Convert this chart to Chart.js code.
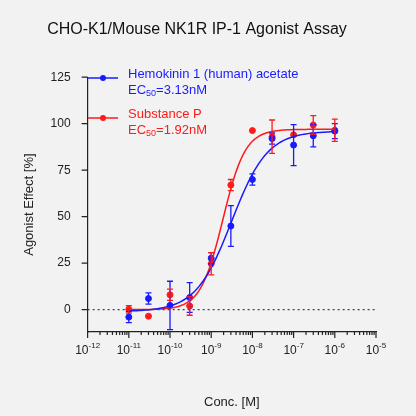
<!DOCTYPE html><html><head><script src="https://cdn.jsdelivr.net/npm/chart.js"></script>
<style>body{margin:0;background:#f2f2f2}#w{width:416px;height:416px}</style></head><body><div id="w"><canvas id="c"></canvas></div>
<script>
const conc=[1e-11,3e-11,1e-10,3e-10,1e-9,3e-9,1e-8,3e-8,1e-7,3e-7,1e-6];
const hkVals=[-4,6,2.3,6.5,27.7,45,70,92,88.5,93.5,96];
const hkErr=[3,3,13,8,3,11,3,3,11,6,4];
const spVals=[0.2,-3.5,8,2,24.7,67,96.3,93,94,99.3,96.5];
const spErr=[2,0,3,5,6,3,0,9,0,5,6];
const hkFit={bottom:-1,top:96,ec50:3.13e-9,hill:1.0};
const spFit={bottom:0,top:97,ec50:1.92e-9,hill:1.6};
const xExp=[-12,-11,-10,-9,-8,-7,-6,-5];
const yTicks=[0,25,50,75,100,125];
function curve(f){const p=[];for(let l=-11;l<=-6.0001;l+=0.05){const x=Math.pow(10,l);p.push({x,y:f.bottom+(f.top-f.bottom)/(1+Math.pow(f.ec50/x,f.hill))});}p.push({x:1e-6,y:f.bottom+(f.top-f.bottom)/(1+Math.pow(f.ec50/1e-6,f.hill))});return p;}
const pts=v=>conc.map((x,i)=>({x,y:v[i]}));
const blue='#1a1aff',red='#ff1a1a';
const plug={id:'p',afterDatasetsDraw(ch){const c=ch.ctx,xs=ch.scales.x,ys=ch.scales.y;c.save();
c.setLineDash([2,3]);c.strokeStyle='#444';c.lineWidth=1.2;c.beginPath();c.moveTo(xs.left,ys.getPixelForValue(0));c.lineTo(xs.right,ys.getPixelForValue(0));c.stroke();c.setLineDash([]);
c.strokeStyle='#222';c.lineWidth=1.2;c.beginPath();
for(let e=-12;e<=-5;e++){for(let m=1;m<10;m++){const v=m*Math.pow(10,e);if(v>1e-5*1.0001)break;const px=xs.getPixelForValue(v);c.moveTo(px,ys.bottom);c.lineTo(px,ys.bottom+(m===1?6:3));}}
yTicks.forEach(v=>{const py=ys.getPixelForValue(v);c.moveTo(xs.left,py);c.lineTo(xs.left-6,py);});c.stroke();
[[hkVals,hkErr,blue],[spVals,spErr,red]].forEach(([v,e,col])=>{c.strokeStyle=col;c.lineWidth=1.3;conc.forEach((x,i)=>{if(!e[i])return;const px=xs.getPixelForValue(x),a=ys.getPixelForValue(v[i]+e[i]),b=ys.getPixelForValue(v[i]-e[i]);c.beginPath();c.moveTo(px,a);c.lineTo(px,b);c.moveTo(px-3,a);c.lineTo(px+3,a);c.moveTo(px-3,b);c.lineTo(px+3,b);c.stroke();});});
c.fillStyle='#222';c.textBaseline='top';
xExp.forEach(e=>{const px=xs.getPixelForValue(Math.pow(10,e));c.font='12px Arial, Liberation Sans';const w1=c.measureText('10').width;c.font='8px Arial, Liberation Sans';const w2=c.measureText(String(e)).width;const s=px-(w1+w2)/2;c.textAlign='left';c.font='12px Arial, Liberation Sans';c.fillText('10',s,ys.bottom+13);c.font='8px Arial, Liberation Sans';c.fillText(String(e),s+w1,ys.bottom+10);});
const lg=(y,col,l1,ecv)=>{c.strokeStyle=col;c.fillStyle=col;c.lineWidth=1.5;c.beginPath();c.moveTo(88,y);c.lineTo(118,y);c.stroke();c.beginPath();c.arc(103,y,3,0,7);c.fill();c.textAlign='left';c.textBaseline='middle';c.font='13px Arial, Liberation Sans';c.fillText(l1,128,y-4);c.fillText('EC',128,y+12);let w=c.measureText('EC').width;c.font='9px Arial, Liberation Sans';c.fillText('50',128+w,y+16);let w2=c.measureText('50').width;c.font='13px Arial, Liberation Sans';c.fillText('='+ecv,128+w+w2,y+12);};
lg(78,blue,'Hemokinin 1 (human) acetate','3.13nM');lg(118,red,'Substance P','1.92nM');
c.restore();}};
new Chart(document.getElementById('c'),{type:'scatter',data:{datasets:[
{data:curve(hkFit),showLine:true,borderColor:blue,borderWidth:1.5,pointRadius:0,tension:0},
{data:curve(spFit),showLine:true,borderColor:red,borderWidth:1.5,pointRadius:0,tension:0},
{data:pts(hkVals),pointRadius:3,backgroundColor:blue,borderColor:blue},
{data:pts(spVals),pointRadius:3,backgroundColor:red,borderColor:red}]},
options:{responsive:true,maintainAspectRatio:false,animation:false,layout:{padding:{left:18,right:40,top:8,bottom:4}},
plugins:{legend:{display:false},tooltip:{enabled:false},title:{display:true,text:'CHO-K1/Mouse NK1R IP-1 Agonist Assay',color:'#111',font:{size:16,family:'Arial, Liberation Sans',weight:'normal'},padding:{top:12,bottom:38}}},
scales:{x:{type:'logarithmic',min:1e-12,max:1e-5,grid:{display:false},border:{color:'#222',width:1.2},afterBuildTicks:a=>{a.ticks=xExp.map(e=>({value:Math.pow(10,e)}));},ticks:{autoSkip:false,callback:()=>'',padding:20},title:{display:true,text:'Conc. [M]',color:'#222',font:{size:13,family:'Arial, Liberation Sans'},padding:{top:0,bottom:2}}},
y:{min:-12,max:125,grid:{display:false},border:{color:'#222',width:1.2},afterBuildTicks:a=>{a.ticks=yTicks.map(v=>({value:v}));},ticks:{color:'#222',padding:9,font:{size:12,family:'Arial, Liberation Sans'}},title:{display:true,text:'Agonist Effect [%]',color:'#222',font:{size:13,family:'Arial, Liberation Sans'}}}}},plugins:[plug]});
</script></body></html>
